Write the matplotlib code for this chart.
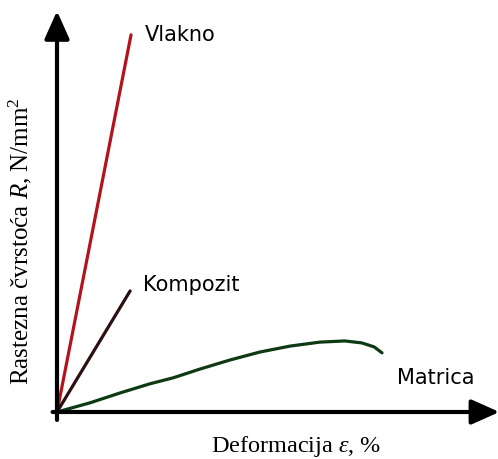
import matplotlib
matplotlib.use('Agg')
import matplotlib.pyplot as plt

plt.rcParams['mathtext.fontset'] = 'custom'
plt.rcParams['mathtext.rm'] = 'Liberation Serif'
plt.rcParams['mathtext.it'] = 'Liberation Serif:italic'

# data (strain %, strength), arbitrary units 0..10
vlakno_x = [0.0, 1.69]
vlakno_y = [0.0, 9.50]
kompozit_x = [0.0, 1.67]
kompozit_y = [0.0, 3.05]
matrica_x = [0.0, 0.75, 1.44, 2.12, 2.65, 3.26, 3.95, 4.63, 5.32, 6.00, 6.57, 6.96, 7.24, 7.42]
matrica_y = [0.0, 0.23, 0.48, 0.71, 0.86, 1.08, 1.31, 1.51, 1.66, 1.76, 1.79, 1.74, 1.64, 1.49]

W, H = 498, 459
fig = plt.figure(figsize=(W / 100, H / 100), dpi=100)
x0, y0, x1, y1 = 57, 412, 495, 15
ax = fig.add_axes([x0 / W, (H - y0) / H, (x1 - x0) / W, (y0 - y1) / H])
ax.set_xlim(0, 10)
ax.set_ylim(0, 10)
ax.axis('off')

ax.plot(vlakno_x, vlakno_y, color='#b3141c', lw=2.3, solid_capstyle='round')
ax.plot(kompozit_x, kompozit_y, color='#2b1012', lw=2.3, solid_capstyle='round')
ax.plot(matrica_x, matrica_y, color='#0d3a12', lw=2.3, solid_capstyle='round')

arrow = dict(arrowstyle='-|>,head_length=0.85,head_width=0.38', lw=3.0, color='black',
             mutation_scale=20, shrinkA=0, shrinkB=0)
ax.annotate('', xy=(0, 10.1), xytext=(0, -0.2), arrowprops=arrow, annotation_clip=False)
ax.annotate('', xy=(10.1, 0), xytext=(-0.1, 0), arrowprops=arrow, annotation_clip=False)

ax.text(2.0, 9.5, 'Vlakno', fontsize=15, family='DejaVu Sans', va='center', ha='left')
ax.text(1.96, 3.2, 'Kompozit', fontsize=15, family='DejaVu Sans', va='center', ha='left')
ax.text(7.76, 0.86, 'Matrica', fontsize=15, family='DejaVu Sans', va='center', ha='left')

fig.text(296 / W, 1 - 452 / H, r'Deformacija $\varepsilon$, %', fontsize=17.5,
         family='Liberation Serif', ha='center', va='baseline')
fig.text(20 / W, 1 - 241 / H, r'Rastezna čvrstoća $R$, N/mm$^2$', fontsize=18,
         family='Liberation Serif', ha='center', va='center', rotation=90)

fig.savefig('out.png', dpi=100)
